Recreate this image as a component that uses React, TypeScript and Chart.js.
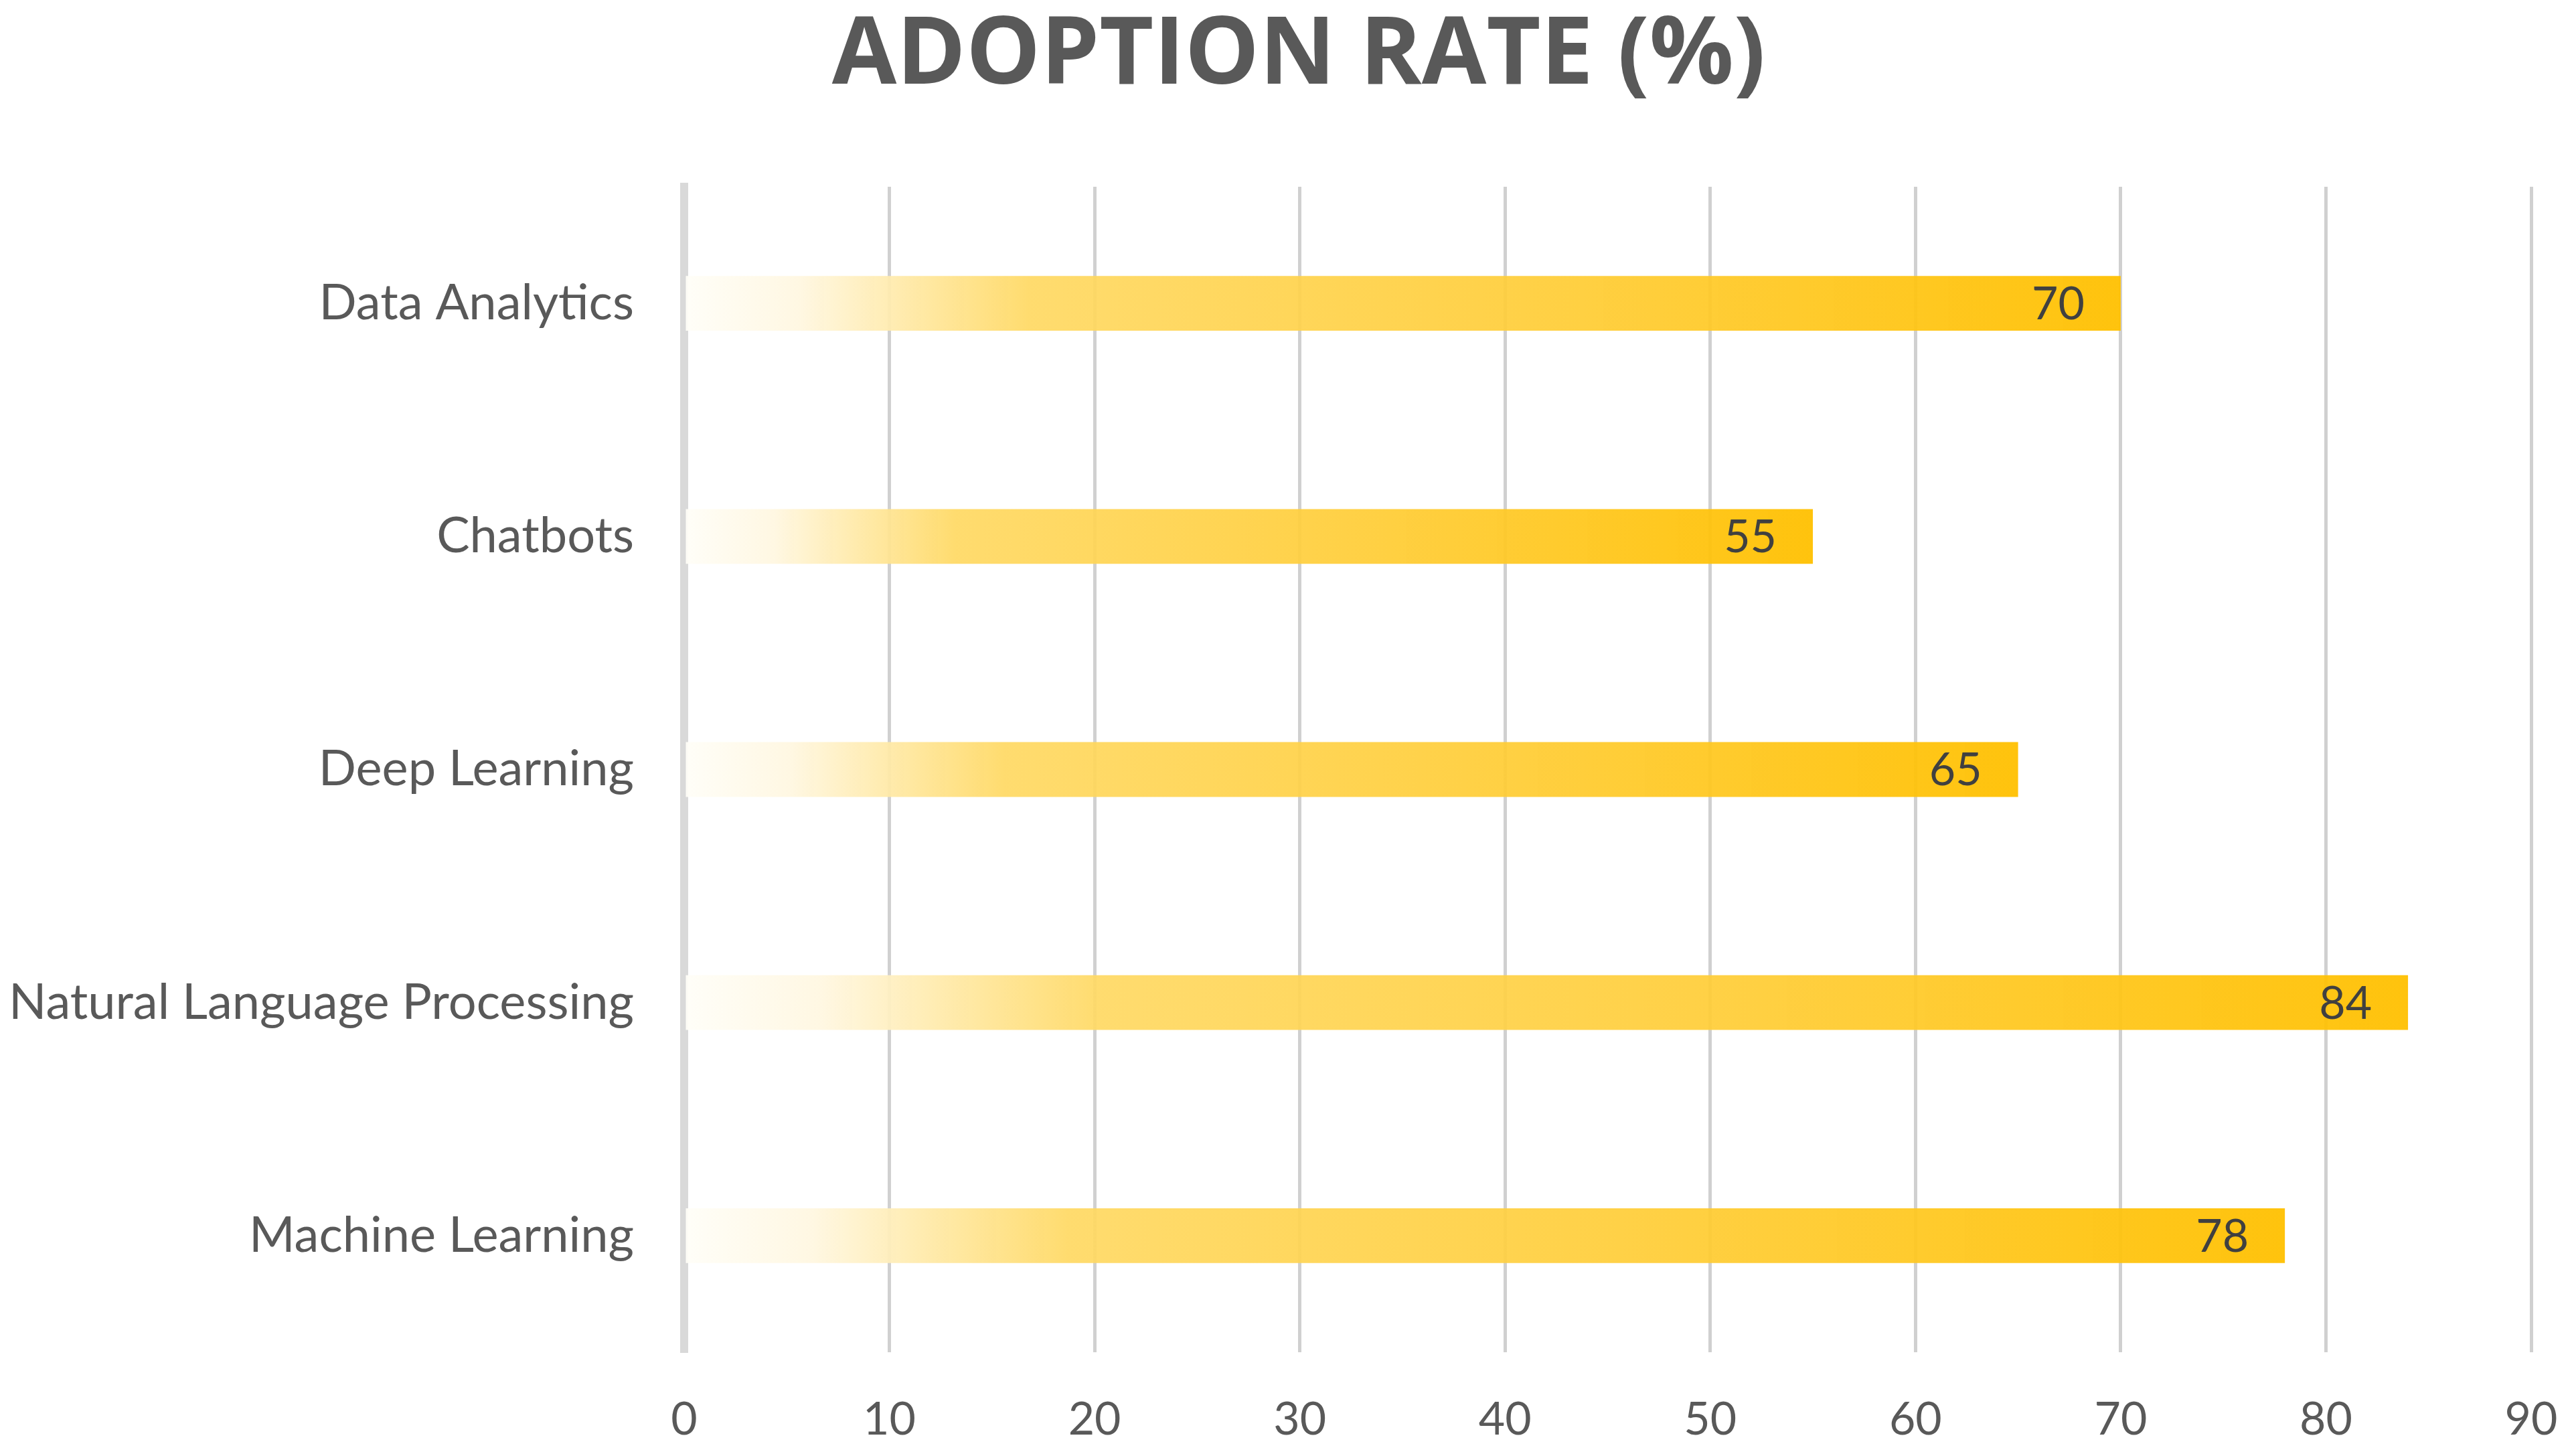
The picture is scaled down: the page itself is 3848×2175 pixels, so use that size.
import React, { useEffect, useRef } from "react";
import { Chart, registerables } from "chart.js";

Chart.register(...registerables);

// ---- data ----
const TITLE = "ADOPTION RATE (%)";
const categories = [
  "Data Analytics",
  "Chatbots",
  "Deep Learning",
  "Natural Language Processing",
  "Machine Learning",
];
const adoptionRate = [70, 55, 65, 84, 78];
const X_MIN = 0;
const X_MAX = 90;
const X_STEP = 10;

// ---- styles ----
const GRADIENT_STOPS: [number, string][] = [
  [0, "rgba(255,254,248,0.95)"],
  [0.08, "rgba(255,247,225,0.95)"],
  [0.15, "rgba(255,234,170,0.94)"],
  [0.24, "rgba(255,217,100,0.93)"],
  [0.6, "rgba(255,205,55,0.93)"],
  [1, "rgba(255,192,0,0.95)"],
];

const titlePlugin = {
  id: "titleText",
  afterDraw(chart: any) {
    const ctx = chart.ctx;
    ctx.save();
    ctx.font = 'bold 140px "Open Sans"';
    ctx.fillStyle = "#595959";
    ctx.textAlign = "center";
    ctx.textBaseline = "alphabetic";
    ctx.fillText(TITLE, chart.width / 2 + 16, 125);
    ctx.restore();
  },
};

const valueLabels = {
  id: "valueLabels",
  afterDatasetsDraw(chart: any) {
    const ctx = chart.ctx;
    const meta = chart.getDatasetMeta(0);
    const data = chart.data.datasets[0].data;
    ctx.save();
    ctx.font = '68px "Lato"';
    ctx.fillStyle = "#404040";
    ctx.textAlign = "right";
    ctx.textBaseline = "middle";
    meta.data.forEach((bar: any, i: number) => {
      ctx.fillText(String(data[i]), bar.x - 54, bar.y + 2);
    });
    ctx.restore();
  },
};

export default function App() {
  const canvasRef = useRef<HTMLCanvasElement | null>(null);

  useEffect(() => {
    if (!canvasRef.current) return;
    const chart = new Chart(canvasRef.current, {
      type: "bar",
      data: {
        labels: categories,
        datasets: [
          {
            label: TITLE,
            data: adoptionRate,
            backgroundColor: (c: any) => {
              const ch = c.chart;
              const xs = ch.scales && ch.scales.x;
              if (!xs || c.type !== "data") return "#FFC000";
              const x0 = xs.getPixelForValue(0);
              const x1 = xs.getPixelForValue(c.raw as number);
              if (!isFinite(x0) || !isFinite(x1) || x1 === x0) return "#FFC000";
              const g = ch.ctx.createLinearGradient(x0, 0, x1, 0);
              GRADIENT_STOPS.forEach(([o, col]) => g.addColorStop(o, col));
              return g;
            },
            borderWidth: 0,
            barPercentage: 0.235,
            categoryPercentage: 1,
          },
        ],
      },
      options: {
        indexAxis: "y",
        animation: false,
        responsive: true,
        maintainAspectRatio: false,
        events: [],
        layout: { padding: { top: 279, right: 67, left: 0, bottom: 0 } },
        plugins: {
          legend: { display: false },
          title: { display: false },
          tooltip: { enabled: false },
        },
        scales: {
          x: {
            type: "linear",
            min: X_MIN,
            max: X_MAX,
            ticks: {
              stepSize: X_STEP,
              color: "#595959",
              font: { family: "Lato", size: 68 },
              padding: 60,
            },
            grid: {
              color: (c: any) =>
                c.tick && c.tick.value === 0 ? "rgba(0,0,0,0)" : "#D0D0D0",
              lineWidth: 5,
              drawTicks: false,
            },
            border: { display: false },
            afterFit(s: any) {
              s.height = 155;
              s.paddingLeft = 0;
              s.paddingRight = 0;
            },
          },
          y: {
            type: "category",
            ticks: {
              color: "#595959",
              font: { family: "Lato", size: 74 },
              padding: 75,
            },
            grid: { display: false, drawTicks: false },
            border: { display: true, color: "#D9D9D9", width: 12 },
            afterFit(s: any) {
              s.width = 1022;
            },
          },
        },
      },
      plugins: [titlePlugin, valueLabels],
    } as any);
    return () => chart.destroy();
  }, []);

  return (
    <div
      style={{
        position: "fixed",
        left: 0,
        top: 0,
        width: "3848px",
        height: "2175px",
        background: "#ffffff",
      }}
    >
      <canvas ref={canvasRef} />
    </div>
  );
}
